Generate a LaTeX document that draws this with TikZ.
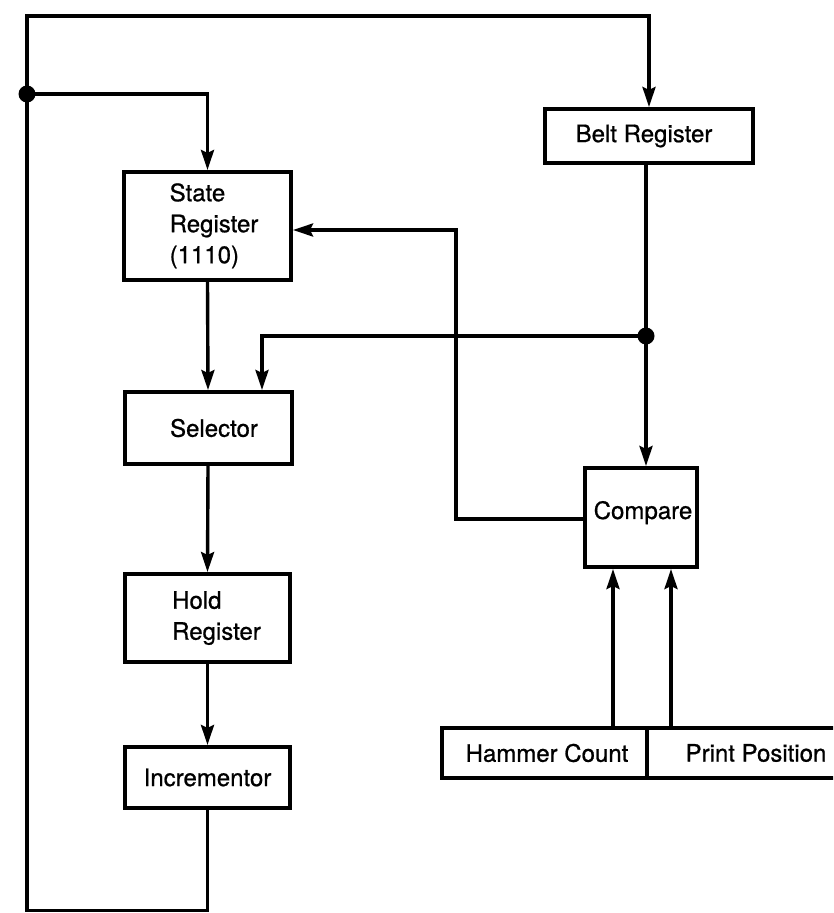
\documentclass[tikz,border=0pt]{standalone}
\usepackage{fontspec}
\setmainfont{TeX Gyre Heros}[FakeBold=0.8]
\usetikzlibrary{arrows.meta}
\begin{document}
\begin{tikzpicture}[x=1pt,y=-1pt,
  blk/.style={draw, line width=4pt, inner sep=0pt, font=\fontsize{24}{31}\selectfont},
  wire/.style={line width=3.4pt},
  arr/.style={wire, -{Stealth[length=20pt,width=13pt,inset=3pt]}},
  junction/.style={fill=black}
]
\clip (0,0) rectangle (833,913);
% boxes
\node[blk, minimum width=167pt, minimum height=108pt] (sr) at (207.5,226)
  {\hspace*{13pt}\begin{tabular}{@{}l@{}}State\\Register\\(1110)\end{tabular}};
\node[blk, minimum width=167pt, minimum height=72pt] (sel) at (208,428) {\hspace*{12pt}Selector};
\node[blk, minimum width=165pt, minimum height=88pt] (hold) at (207.5,618)
  {\hspace*{18pt}\begin{tabular}{@{}l@{}}Hold\\Register\end{tabular}};
\node[blk, minimum width=165pt, minimum height=61pt] (inc) at (207.5,777.5) {Incrementor};
\node[blk, minimum width=208pt, minimum height=54pt] (belt) at (649,136) {Belt Register\hspace*{10pt}};
\node[blk, minimum width=112pt, minimum height=99pt] (cmp) at (641,517.5) {\hspace*{4pt}Compare\rule[-15pt]{0pt}{1pt}};
\node[blk, minimum width=205pt, minimum height=50pt] (hc) at (544.5,753) {\hspace*{5pt}Hammer Count};
\node[blk, minimum width=193pt, minimum height=50pt] (pp) at (743.5,753) {\hspace*{25pt}Print Position};
% coordinates
\coordinate (c1) at (27,910.5);
\coordinate (c2) at (27,16);
\coordinate (d1) at (27,94);
\coordinate (d2) at (646,336);
\coordinate (c5) at (262,336);
\coordinate (c6) at (456,519);
\coordinate (c7) at (456,230);
\coordinate (a1) at (613,0);
\coordinate (a2) at (671,0);
% connectors
\draw[arr] (inc.south) |- (c1) -- (c2) -| (belt.north);
\draw[arr] (d1) -| (sr.north);
\draw[arr] (sr.south) -- (sel.north);
\draw[arr] (sel.south) -- (hold.north);
\draw[arr] (hold.south) -- (inc.north);
\draw[wire] (belt.south -| d2) -- (d2);
\draw[arr] (d2) -- (d2 |- cmp.north);
\draw[arr] (d2) -- (c5) -- (c5 |- sel.north);
\draw[arr] (c6 -| cmp.west) -- (c6) -- (c7) -- (c7 -| sr.east);
\draw[arr] (hc.north -| a1) -- (cmp.south -| a1);
\draw[arr] (pp.north -| a2) -- (cmp.south -| a2);
% junction dots
\fill[junction] (d1) circle[radius=8.5pt];
\fill[junction] (d2) circle[radius=8.5pt];
\end{tikzpicture}
\end{document}
